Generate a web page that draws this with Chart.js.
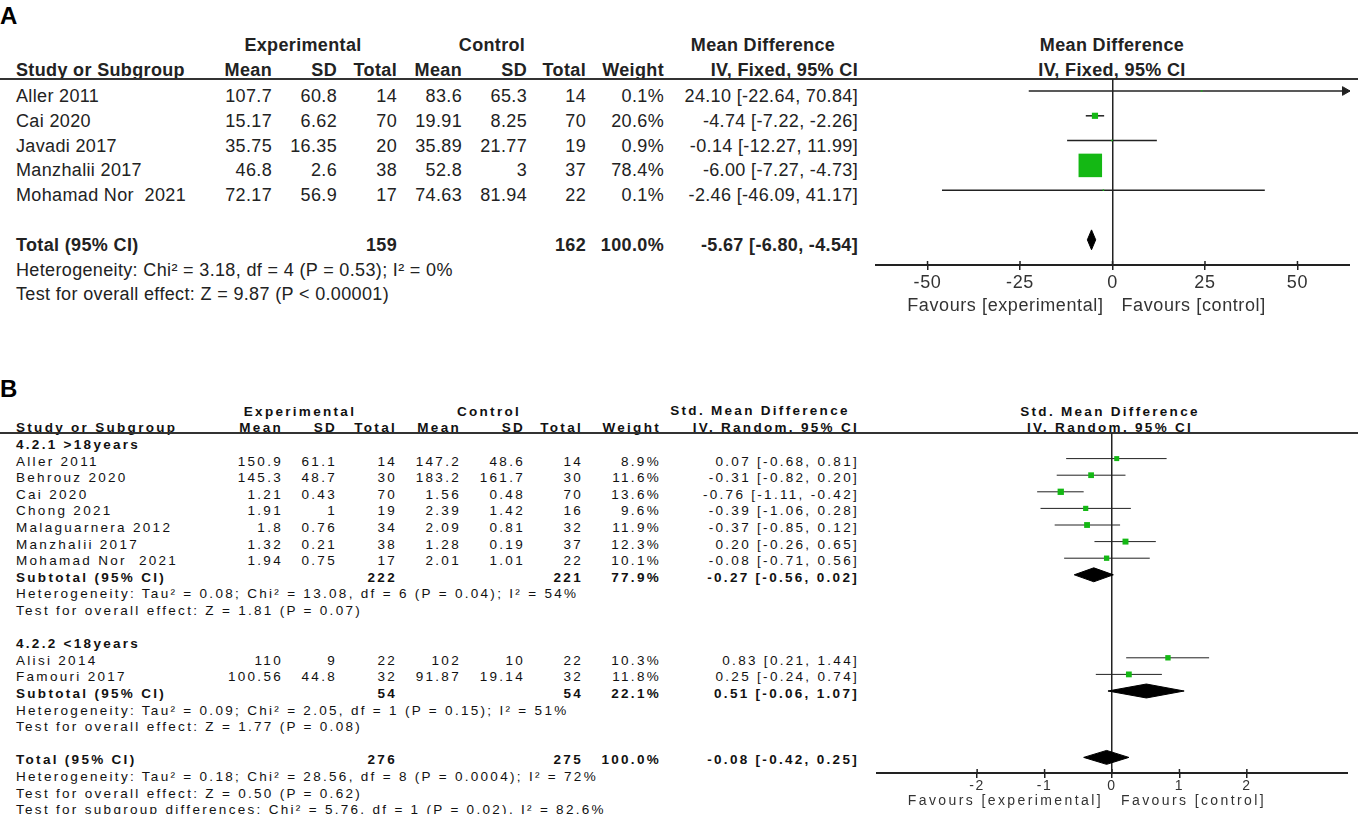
<!DOCTYPE html>
<html lang="en">
<head>
<meta charset="UTF-8">
<title>Forest plots</title>
<script src="https://cdn.jsdelivr.net/npm/chart.js@4"></script>
<style>
    body {
        margin: 0;
        width: 1358px;
        height: 814px;
        background: #fff;
        position: relative;
        overflow: hidden;
        font-family: Arial, "Liberation Sans", sans-serif;
        color: #222;
    }
    .t { position: absolute; white-space: pre; }
    .a { font-size: 18px; line-height: 20px; letter-spacing: 0.35px; }
    .b { font-size: 13.5px; line-height: 16px; letter-spacing: 2.3px; color: #111; }
    .bold { font-weight: bold; }
    .rule { position: absolute; left: 0; width: 1358px; height: 2px; background: #333; }
    .panel { font-size: 24px; font-weight: bold; color: #000; line-height: 26px; letter-spacing: 0; }
    canvas { position: absolute; }
</style>
</head>
<body>
<script>
// ---------- panel A : mean difference, fixed effect ----------
const studiesA  = ['Aller 2011', 'Cai 2020', 'Javadi 2017', 'Manzhalii 2017', 'Mohamad Nor  2021'];
const expMeanA  = [107.7, 15.17, 35.75, 46.8, 72.17];
const expSdA    = [60.8, 6.62, 16.35, 2.6, 56.9];
const expNA     = [14, 70, 20, 38, 17];
const ctlMeanA  = [83.6, 19.91, 35.89, 52.8, 74.63];
const ctlSdA    = [65.3, 8.25, 21.77, 3, 81.94];
const ctlNA     = [14, 70, 19, 37, 22];
const weightA   = [0.1, 20.6, 0.9, 78.4, 0.1];
const mdA       = [24.10, -4.74, -0.14, -6.00, -2.46];
const loA       = [-22.64, -7.22, -12.27, -7.27, -46.09];
const hiA       = [70.84, -2.26, 11.99, -4.73, 41.17];
const totalA    = { expN: 159, ctlN: 162, weight: 100.0, md: -5.67, lo: -6.80, hi: -4.54 };
const hetA      = 'Heterogeneity: Chi² = 3.18, df = 4 (P = 0.53); I² = 0%';
const testA     = 'Test for overall effect: Z = 9.87 (P < 0.00001)';
const ticksA    = [-50, -25, 0, 25, 50];

// ---------- panel B : std. mean difference, random effects ----------
const studiesB  = ['Aller 2011', 'Behrouz 2020', 'Cai 2020', 'Chong 2021', 'Malaguarnera 2012',
                   'Manzhalii 2017', 'Mohamad Nor  2021', 'Alisi 2014', 'Famouri 2017'];
const groupB    = [0, 0, 0, 0, 0, 0, 0, 1, 1];
const expMeanB  = [150.9, 145.3, 1.21, 1.91, 1.8, 1.32, 1.94, 110, 100.56];
const expSdB    = [61.1, 48.7, 0.43, 1, 0.76, 0.21, 0.75, 9, 44.8];
const expNB     = [14, 30, 70, 19, 34, 38, 17, 22, 32];
const ctlMeanB  = [147.2, 183.2, 1.56, 2.39, 2.09, 1.28, 2.01, 102, 91.87];
const ctlSdB    = [48.6, 161.7, 0.48, 1.42, 0.81, 0.19, 1.01, 10, 19.14];
const ctlNB     = [14, 30, 70, 16, 32, 37, 22, 22, 32];
const weightB   = [8.9, 11.6, 13.6, 9.6, 11.9, 12.3, 10.1, 10.3, 11.8];
const smdB      = [0.07, -0.31, -0.76, -0.39, -0.37, 0.20, -0.08, 0.83, 0.25];
const loB       = [-0.68, -0.82, -1.11, -1.06, -0.85, -0.26, -0.71, 0.21, -0.24];
const hiB       = [0.81, 0.20, -0.42, 0.28, 0.12, 0.65, 0.56, 1.44, 0.74];

const groupLabelsB = ['4.2.1 >18years', '4.2.2 <18years'];
const subExpNB     = [222, 54];
const subCtlNB     = [221, 54];
const subWeightB   = [77.9, 22.1];
const subSmdB      = [-0.27, 0.51];
const subLoB       = [-0.56, -0.06];
const subHiB       = [0.02, 1.07];
const subHetB      = ['Heterogeneity: Tau² = 0.08; Chi² = 13.08, df = 6 (P = 0.04); I² = 54%',
                      'Heterogeneity: Tau² = 0.09; Chi² = 2.05, df = 1 (P = 0.15); I² = 51%'];
const subTestB     = ['Test for overall effect: Z = 1.81 (P = 0.07)',
                      'Test for overall effect: Z = 1.77 (P = 0.08)'];
const totalB       = { expN: 276, ctlN: 275, weight: 100.0, smd: -0.08, lo: -0.42, hi: 0.25 };
const totalTextB   = ['Heterogeneity: Tau² = 0.18; Chi² = 28.56, df = 8 (P = 0.0004); I² = 72%',
                      'Test for overall effect: Z = 0.50 (P = 0.62)',
                      'Test for subgroup differences: Chi² = 5.76, df = 1 (P = 0.02), I² = 82.6%'];
const ticksB       = [-2, -1, 0, 1, 2];

const GREEN = '#14b814';

// ---------- text helpers ----------
function put(cls, x, y, s, align) {
    const d = document.createElement('div');
    d.className = 't ' + cls;
    d.textContent = s;
    document.body.appendChild(d);
    const h = parseFloat(getComputedStyle(d).lineHeight);
    d.style.top = (y - h / 2) + 'px';
    if (align === 'r') {
        d.style.left = (x - 600) + 'px'; d.style.width = '600px'; d.style.textAlign = 'right';
    } else if (align === 'c') {
        d.style.left = (x - 300) + 'px'; d.style.width = '600px'; d.style.textAlign = 'center';
    } else {
        d.style.left = x + 'px';
    }
}
function rule(y) {
    const d = document.createElement('div');
    d.className = 'rule';
    d.style.top = y + 'px';
    document.body.appendChild(d);
}
const ci = (e, l, h) => e.toFixed(2) + ' [' + l.toFixed(2) + ', ' + h.toFixed(2) + ']';

// ---------- panel A table ----------
const colsA = [272, 337, 397, 462, 527, 586, 664, 858];
const rowA = r => 96 + 24.8 * r;
put('panel', 0, 16, 'A');
put('a bold', 303, 45, 'Experimental', 'c');
put('a bold', 492, 45, 'Control', 'c');
put('a bold', 763, 45, 'Mean Difference', 'c');
put('a bold', 1112, 45, 'Mean Difference', 'c');
put('a bold', 16, 70, 'Study or Subgroup');
['Mean', 'SD', 'Total', 'Mean', 'SD', 'Total', 'Weight', 'IV, Fixed, 95% CI']
    .forEach((h, i) => put('a bold', colsA[i], 70, h, 'r'));
put('a bold', 1112, 70, 'IV, Fixed, 95% CI', 'c');
rule(78);
studiesA.forEach((s, i) => {
    const y = rowA(i);
    put('a', 16, y, s);
    [expMeanA[i], expSdA[i], expNA[i], ctlMeanA[i], ctlSdA[i], ctlNA[i]]
        .forEach((v, j) => put('a', colsA[j], y, String(v), 'r'));
    put('a', colsA[6], y, weightA[i].toFixed(1) + '%', 'r');
    put('a', colsA[7], y, ci(mdA[i], loA[i], hiA[i]), 'r');
});
put('a bold', 16, rowA(6), 'Total (95% CI)');
put('a bold', colsA[2], rowA(6), String(totalA.expN), 'r');
put('a bold', colsA[5], rowA(6), String(totalA.ctlN), 'r');
put('a bold', colsA[6], rowA(6), totalA.weight.toFixed(1) + '%', 'r');
put('a bold', colsA[7], rowA(6), ci(totalA.md, totalA.lo, totalA.hi), 'r');
put('a', 16, rowA(7), hetA);
put('a', 16, rowA(8), testA);

// ---------- panel B table ----------
const colsB = [283, 337, 397, 461, 525, 583, 661, 859];
const rowB = r => 445 + 16.6 * r;
put('panel', 0, 389, 'B');
put('b bold', 300, 412, 'Experimental', 'c');
put('b bold', 489, 412, 'Control', 'c');
put('b bold', 760, 411, 'Std. Mean Difference', 'c');
put('b bold', 1110, 412, 'Std. Mean Difference', 'c');
put('b bold', 16, 428, 'Study or Subgroup');
['Mean', 'SD', 'Total', 'Mean', 'SD', 'Total', 'Weight', 'IV, Random, 95% CI']
    .forEach((h, i) => put('b bold', colsB[i], 428, h, 'r'));
put('b bold', 1110, 428, 'IV, Random, 95% CI', 'c');
rule(432);

const studyRowB = [];
const subRowB = [];
let r = 0;
groupLabelsB.forEach((g, gi) => {
    put('b bold', 16, rowB(r), g);
    r++;
    studiesB.forEach((s, i) => {
        if (groupB[i] !== gi) return;
        const y = rowB(r);
        studyRowB[i] = r;
        put('b', 16, y, s);
        [expMeanB[i], expSdB[i], expNB[i], ctlMeanB[i], ctlSdB[i], ctlNB[i]]
            .forEach((v, j) => put('b', colsB[j], y, String(v), 'r'));
        put('b', colsB[6], y, weightB[i].toFixed(1) + '%', 'r');
        put('b', colsB[7], y, ci(smdB[i], loB[i], hiB[i]), 'r');
        r++;
    });
    subRowB[gi] = r;
    put('b bold', 16, rowB(r), 'Subtotal (95% CI)');
    put('b bold', colsB[2], rowB(r), String(subExpNB[gi]), 'r');
    put('b bold', colsB[5], rowB(r), String(subCtlNB[gi]), 'r');
    put('b bold', colsB[6], rowB(r), subWeightB[gi].toFixed(1) + '%', 'r');
    put('b bold', colsB[7], rowB(r), ci(subSmdB[gi], subLoB[gi], subHiB[gi]), 'r');
    r++;
    put('b', 16, rowB(r++), subHetB[gi]);
    put('b', 16, rowB(r++), subTestB[gi]);
    r++;
});
const totalRowB = r;
put('b bold', 16, rowB(r), 'Total (95% CI)');
put('b bold', colsB[2], rowB(r), String(totalB.expN), 'r');
put('b bold', colsB[5], rowB(r), String(totalB.ctlN), 'r');
put('b bold', colsB[6], rowB(r), totalB.weight.toFixed(1) + '%', 'r');
put('b bold', colsB[7], rowB(r), ci(totalB.smd, totalB.lo, totalB.hi), 'r');
totalTextB.forEach((s, k) => put('b', 16, rowB(r + 1 + k), s));

// ---------- forest plots ----------
Chart.defaults.font.family = 'Arial, "Liberation Sans", sans-serif';
Chart.defaults.color = '#333';

// short tick marks above the axis line and the two "Favours" captions
const forestAxis = {
    id: 'forestAxis',
    beforeDraw(chart, args, o) {
        if (o.spacing) chart.ctx.letterSpacing = o.spacing;
    },
    afterDraw(chart, args, o) {
        const sx = chart.scales.x, ctx = chart.ctx, yb = chart.chartArea.bottom;
        ctx.save();
        ctx.strokeStyle = '#222';
        ctx.lineWidth = 1.5;
        sx.ticks.forEach(t => {
            const px = sx.getPixelForValue(t.value);
            ctx.beginPath();
            ctx.moveTo(px, yb);
            ctx.lineTo(px, yb - o.up);
            ctx.stroke();
        });
        const x0 = sx.getPixelForValue(0);
        ctx.fillStyle = '#333';
        ctx.font = o.font;
        if (o.favSpacing) ctx.letterSpacing = o.favSpacing;
        ctx.textBaseline = 'middle';
        ctx.textAlign = 'right';
        ctx.fillText('Favours [experimental]', x0 - o.gap, o.y);
        ctx.textAlign = 'left';
        ctx.fillText('Favours [control]', x0 + o.gap, o.y);
        ctx.restore();
    }
};

function forest(p) {
    const cv = document.createElement('canvas');
    cv.width = p.w; cv.height = p.h;
    cv.style.left = p.left + 'px';
    cv.style.top = p.top + 'px';
    document.body.appendChild(cv);

    const ppu = p.w / (p.xMax - p.xMin);
    const ds = [];
    ds.push({
        data: p.est.map((v, i) => ({ x: v, y: p.rows[i] })),
        pointStyle: 'rect',
        pointRadius: p.weight.map(w => p.side(w) / Math.SQRT2),
        backgroundColor: GREEN, borderWidth: 0, showLine: false, order: 0
    });
    p.lo.forEach((lo, i) => {
        ds.push({
            data: [{ x: Math.max(lo, p.xMin), y: p.rows[i] }, { x: Math.min(p.hi[i], p.xMax), y: p.rows[i] }],
            showLine: true, borderColor: '#222', borderWidth: p.lw, pointRadius: 0, order: 1
        });
        if (p.hi[i] > p.xMax) {
            ds.push({
                data: [{ x: p.xMax - 5 / ppu, y: p.rows[i] }],
                pointStyle: 'triangle', rotation: 90, pointRadius: 5,
                backgroundColor: '#222', borderColor: '#222', borderWidth: 1,
                showLine: false, clip: false, order: 1
            });
        }
    });
    p.sumEst.forEach((e, i) => {
        const y = p.sumRows[i], h = p.dh;
        ds.push({
            data: [{ x: p.sumLo[i], y: y }, { x: e, y: y - h }, { x: p.sumHi[i], y: y },
                   { x: e, y: y + h }, { x: p.sumLo[i], y: y }],
            showLine: true, fill: 'shape', backgroundColor: '#000', borderColor: '#000',
            borderWidth: 1, pointRadius: 0, order: 1
        });
    });

    return new Chart(cv, {
        type: 'scatter',
        data: { datasets: ds },
        plugins: [forestAxis],
        options: {
            responsive: false,
            animation: false,
            events: [],
            layout: { padding: 0, autoPadding: false },
            plugins: {
                legend: { display: false },
                tooltip: { enabled: false },
                forestAxis: { up: 4, gap: p.gap, y: p.favY, font: p.favFont,
                              spacing: p.spacing, favSpacing: p.favSpacing }
            },
            scales: {
                x: {
                    type: 'linear', min: p.xMin, max: p.xMax,
                    afterBuildTicks: s => { s.ticks = p.ticks.map(v => ({ value: v })); },
                    afterFit: s => { s.height = p.axisH; },
                    border: { display: true, color: '#222', width: 2 },
                    grid: {
                        color: c => (c.tick && c.tick.value === 0) ? '#222' : 'rgba(0,0,0,0)',
                        lineWidth: 1.5, tickLength: 5, tickColor: '#222', tickWidth: 1.5
                    },
                    ticks: { font: { size: p.tickSize }, padding: p.tickPad, color: '#333',
                             callback: v => String(v) }
                },
                y: { type: 'linear', display: false, reverse: true, min: p.yMin, max: p.yMax }
            }
        }
    });
}

// panel A plot: chart area 79..265, rows at 91 + 24.8 r
forest({
    left: 875, top: 79, w: 475, h: 250, axisH: 64,
    xMin: -64.2, xMax: 64.2, ticks: ticksA,
    yMin: (79 - 91) / 24.8, yMax: (265 - 91) / 24.8,
    rows: studiesA.map((s, i) => i), est: mdA, lo: loA, hi: hiA, weight: weightA,
    side: w => Math.max(1.5, 0.3 * w), lw: 1.5,
    sumRows: [6], sumEst: [totalA.md], sumLo: [totalA.lo], sumHi: [totalA.hi], dh: 0.4,
    tickSize: 18, tickPad: 2, favY: 306 - 79, favFont: '18px Arial, "Liberation Sans", sans-serif',
    gap: 9, spacing: '0.6px'
});

// panel B plot: chart area 433..773, rows at 442 + 16.6 r
forest({
    left: 876, top: 433, w: 472, h: 381, axisH: 41,
    xMin: -3.5, xMax: 3.5, ticks: ticksB,
    yMin: (433 - 442) / 16.6, yMax: (773 - 442) / 16.6,
    rows: studyRowB, est: smdB, lo: loB, hi: hiB, weight: weightB,
    side: w => 2.5 + 0.28 * w, lw: 1,
    sumRows: [...subRowB, totalRowB], sumEst: [...subSmdB, totalB.smd],
    sumLo: [...subLoB, totalB.lo], sumHi: [...subHiB, totalB.hi], dh: 0.42,
    tickSize: 14, tickPad: 0, favY: 801 - 433, favFont: '14px Arial, "Liberation Sans", sans-serif',
    gap: 9, spacing: '1.6px', favSpacing: '2.4px'
});
</script>
</body>
</html>
